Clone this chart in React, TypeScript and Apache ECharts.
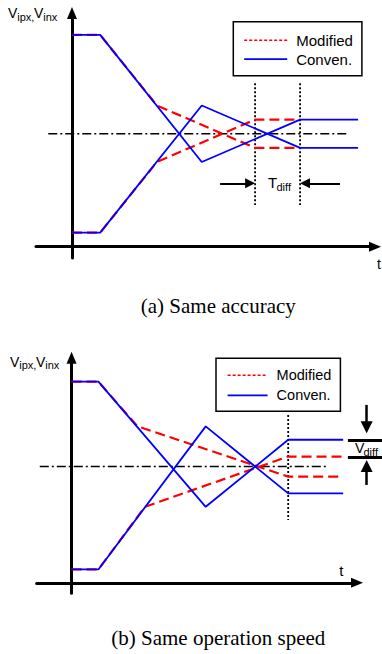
import React, { useEffect, useRef } from 'react';
import * as echarts from 'echarts';

// ---------- Panel (a): Same accuracy ----------
const aConvTop = [[0, 15], [2, 15], [9.2, 6], [16.17, 9], [20.28, 9]];
const aConvBot = [[0, 1], [2, 1], [9.2, 10], [16.17, 7], [20.28, 7]];
const aModTop = [[0, 15], [2, 15], [6.02, 10], [12.98, 7], [16.17, 7]];
const aModBot = [[0, 1], [2, 1], [6.02, 6], [12.98, 9], [16.17, 9]];
const aCenter = [[-1.68, 8], [19.57, 8]];
const aMarkerA = [[12.98, 11.57], [12.98, 2.95]];
const aMarkerB = [[16.17, 11.57], [16.17, 2.95]];
const aTdiffArrows = [
  [[10.5, 4.49], [12.63, 4.49]],
  [[19.0, 4.49], [16.52, 4.49]],
];

// ---------- Panel (b): Same operation speed ----------
const bConvTop = [[0, 15], [2, 15], [10, 5.67], [16.15, 10.67], [20.25, 10.67]];
const bConvBot = [[0, 1], [2, 1], [10, 11.67], [16.15, 6.67], [20.25, 6.67]];
const bModTop = [[0, 15], [2, 15], [4.92, 11.67], [16.15, 7.92], [20.25, 7.92]];
const bModBot = [[0, 1], [2, 1], [5.47, 5.67], [16.15, 9.42], [20.25, 9.42]];
const bCenter = [[-2.37, 8.67], [19.15, 8.67]];
const bMarker = [[16.15, 12.52], [16.15, 4.69]];
const bVdiffBars = [
  [[20.6, 10.67], [23.2, 10.67]],
  [[20.6, 9.38], [23.2, 9.38]],
];
const bVdiffArrows = [
  [[22, 13.27], [22, 11.6]],
  [[22, 7.3], [22, 8.72]],
];

const legendNames = ['Modified', 'Conven.'];
const captions = ['(a) Same accuracy', '(b) Same operation speed'];

const SANS = "'Liberation Sans', Arial, Helvetica, sans-serif";
const SERIF = "'Liberation Serif', 'Times New Roman', serif";
const RED = '#ff0000';
const BLUE = '#0000ff';

function lineSeries(name: string | undefined, data: number[][], idx: number, color: string, width: number, type: any) {
  return {
    type: 'line',
    name,
    data,
    xAxisIndex: idx,
    yAxisIndex: idx,
    symbol: 'none',
    showSymbol: false,
    clip: false,
    silent: true,
    lineStyle: { color, width, type },
    itemStyle: { color },
    emphasis: { disabled: true },
  };
}

function segSeries(list: number[][][], idx: number, width: number, symbol: any, symbolSize: any, type: any = 'solid') {
  return {
    type: 'lines',
    coordinateSystem: 'cartesian2d',
    xAxisIndex: idx,
    yAxisIndex: idx,
    polyline: false,
    clip: false,
    silent: true,
    symbol,
    symbolSize,
    lineStyle: { color: '#000', width, type, opacity: 1, curveness: 0 },
    data: list.map((c) => ({ coords: c })),
  };
}

function axis(min: number, max: number, idx: number) {
  return {
    type: 'value',
    gridIndex: idx,
    min,
    max,
    axisLine: {
      show: true,
      onZero: true,
      symbol: ['none', 'triangle'],
      symbolSize: [10, 12],
      lineStyle: { color: '#000', width: 3 },
    },
    axisTick: { show: false },
    axisLabel: { show: false },
    splitLine: { show: false },
  };
}

function legend(left: number, top: number, fontSize: number, itemWidth: number, padding: number[], itemGap: number) {
  return {
    left,
    top,
    orient: 'vertical',
    padding,
    itemGap,
    itemWidth,
    itemHeight: 14,
    borderColor: '#000',
    borderWidth: 1.5,
    backgroundColor: '#fff',
    selectedMode: false,
    itemStyle: { opacity: 0 },
    textStyle: { fontSize, fontFamily: SANS, color: '#000', padding: [0, 0, 0, 4] },
    data: [
      { name: legendNames[0], lineStyle: { color: RED, width: 1.5, type: [3, 2] }, itemStyle: { opacity: 0 } },
      { name: legendNames[1], lineStyle: { color: BLUE, width: 1.8, type: 'solid' }, itemStyle: { opacity: 0 } },
    ],
  };
}

function txt(x: number, y: number, text: string, fontSize: number, family = SANS, align = 'left') {
  return {
    type: 'text',
    x,
    y,
    silent: true,
    style: { text, fontSize, fontFamily: family, fill: '#000', align, verticalAlign: 'middle' },
  };
}

export default function App() {
  const ref = useRef<HTMLDivElement>(null);
  useEffect(() => {
    const chart = echarts.init(ref.current!, null, { renderer: 'svg' });
    const option: any = {
      animation: false,
      backgroundColor: '#fff',
      grid: [
        { left: 36, top: 13, width: 339, height: 245, containLabel: false },
        { left: 36.7, top: 357.7, width: 320.3, height: 235.6, containLabel: false },
      ],
      xAxis: [axis(-2.55, 21.48, 0), axis(-2.6, 21.28, 1)],
      yAxis: [axis(-0.8, 16.55, 0), axis(-0.78, 16.79, 1)],
      legend: [
        legend(233.3, 21.7, 15, 43, [11, 9, 9, 10], 4),
        legend(216, 358.3, 14.5, 40, [9.5, 9, 8.5, 10.7], 5),
      ],
      series: [
        // panel a
        lineSeries(undefined, aCenter, 0, '#000', 1.5, [9, 3, 2, 3]),
        lineSeries(undefined, aMarkerA, 0, '#000', 1.8, [2, 2]),
        lineSeries(undefined, aMarkerB, 0, '#000', 1.8, [2, 2]),
        lineSeries(legendNames[0], aModTop, 0, RED, 2.2, [10, 5]),
        lineSeries(legendNames[0], aModBot, 0, RED, 2.2, [10, 5]),
        lineSeries(legendNames[1], aConvTop, 0, BLUE, 1.8, 'solid'),
        lineSeries(legendNames[1], aConvBot, 0, BLUE, 1.8, 'solid'),
        segSeries(aTdiffArrows, 0, 2, ['none', 'triangle'], 10),
        // panel b
        lineSeries(undefined, bCenter, 1, '#000', 1.5, [9, 3, 2, 3]),
        lineSeries(undefined, bMarker, 1, '#000', 1.8, [2, 2]),
        lineSeries(legendNames[0], bModTop, 1, RED, 2.2, [10, 5]),
        lineSeries(legendNames[0], bModBot, 1, RED, 2.2, [10, 5]),
        lineSeries(legendNames[1], bConvTop, 1, BLUE, 1.8, 'solid'),
        lineSeries(legendNames[1], bConvBot, 1, BLUE, 1.8, 'solid'),
        segSeries(bVdiffBars, 1, 3, ['none', 'none'], 1),
        segSeries(bVdiffArrows, 1, 2.5, ['none', 'triangle'], 12),
      ],
      graphic: [
        // panel a labels
        txt(8, 13.4, 'V', 14),
        txt(17.3, 16.8, 'ipx,', 11),
        txt(34, 13.4, 'V', 14),
        txt(43.3, 16.8, 'inx', 11),
        txt(377, 264.1, 't', 14),
        txt(268, 182.8, 'T', 15),
        txt(276.5, 187.2, 'diff', 11),
        txt(218.3, 306, captions[0], 21, SERIF, 'center'),
        // panel b labels
        txt(10, 361.8, 'V', 14),
        txt(19.3, 365, 'ipx,', 11),
        txt(36, 361.8, 'V', 14),
        txt(45.3, 365, 'inx', 11),
        txt(339.3, 570.8, 't', 15),
        txt(355, 448.1, 'V', 14),
        txt(363.5, 451.7, 'diff', 11),
        txt(218.3, 638, captions[1], 21, SERIF, 'center'),
      ],
    };
    chart.setOption(option);
    return () => chart.dispose();
  }, []);
  return (
    <div
      ref={ref}
      style={{ position: 'fixed', left: 0, top: 0, width: 382, height: 654, background: '#fff' }}
    />
  );
}
